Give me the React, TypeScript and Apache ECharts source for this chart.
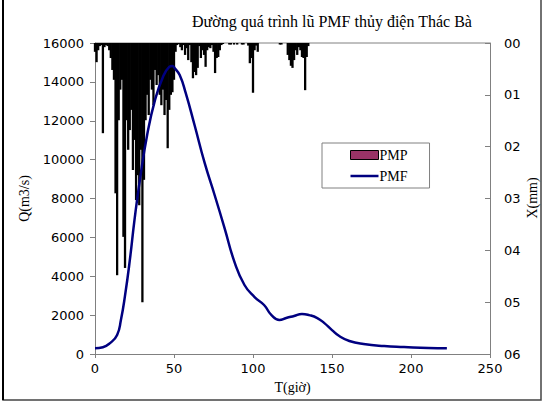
import React, { useEffect, useRef } from "react";
import * as echarts from "echarts";

const TITLE = "Đường quá trình lũ PMF thủy điện Thác Bà";
const RIGHT_AXIS_NAME = "X(mm)";

// PMP hourly rainfall (mm), t = 0,1,2,...
const pmpRain: number[] = [
  1.7, 3.7, 1.4, 0.6, 0.4, 17.4, 0.8, 0.4, 0.6, 1.4,
  2.9, 5.2, 7.1, 29, 44.8, 14.9, 9, 7.1, 37.4, 43.4,
  14.9, 20.6, 16.8, 12.9, 24.5, 18.7, 30.3, 25.5, 31.3, 20.6,
  50, 26.4, 14.9, 10, 13.9, 7.1, 9, 12, 5.2, 8.1,
  6.2, 10, 12, 9, 13.9, 11, 20.3, 12.9, 10, 9.5,
  7.1, 1.7, 0.4, 0.2, 0.8, 1.4, 0.4, 2.3, 1, 3.3,
  0.4, 3.7, 6.8, 5.6, 6.2, 4.8, 0.6, 2.9, 1.4, 2.3,
  4.6, 1.4, 0.8, 1, 0.4, 1.7, 5.8, 2.9, 2.7, 1.4,
  0.4, 0.2, 0, 0, 0, 0.3, 0.3, 0, 0.3, 0,
  0.3, 0, 0, 0.3, 0.3, 0, 0, 0.5, 3.9, 2.9,
  9.6, 1.4, 0.5, 1.7, 0, 0, 0, 0, 0, 0,
  0, 0, 0, 0, 0, 0, 0, 0.3, 0.3, 0,
  0, 0, 2.3, 3.3, 4.4, 4.8, 3.3, 1.4, 2.3, 0.8,
  1.4, 2.7, 2.9, 9.1, 2.7, 0.6,
];

// PMF hydrograph: time (h) and discharge (m3/s)
const pmfTime: number[] = [
  0, 5, 9.5, 14, 16.4, 19, 22, 25, 28.4, 33, 38, 43, 47, 49, 50.5, 53.6, 57.4,
  63, 69.4, 75.7, 82, 88.3, 94.6, 101, 107, 111.7, 116.7, 121, 126, 131,
  135.6, 140.7, 145, 150, 154.6, 161, 170, 183, 195.6, 211, 222.7,
];
const pmfFlow: number[] = [
  300, 350, 560, 980, 1750, 3000, 4800, 6900, 8950, 11270, 13070, 14250, 14770,
  14820, 14700, 14350, 13430, 11780, 9830, 8180, 6480, 4730, 3550, 2930, 2520,
  2000, 1750, 1850, 1955, 2060, 2000, 1850, 1600, 1230, 925, 670, 515, 410,
  360, 310, 300,
];

const rightTickLabels: string[] = ["00", "01", "02", "03", "04", "05", "06"];

const SERIF = "'Liberation Serif', 'Times New Roman', serif";
const SANS = "'DejaVu Sans', Verdana, sans-serif";

export default function App() {
  const ref = useRef<HTMLDivElement>(null);
  useEffect(() => {
    if (!ref.current) return;
    const chart = echarts.init(ref.current, null, { renderer: "svg" });
    const axisLine = { show: true, lineStyle: { color: "#808080", width: 1 } };
    chart.setOption({
      animation: false,
      backgroundColor: "#ffffff",
      title: {
        text: TITLE,
        left: 187,
        top: 8,
        textStyle: { fontFamily: SERIF, fontSize: 16, fontWeight: "normal", color: "#000" },
      },
      legend: {
        orient: "vertical",
        left: 322,
        top: 143,
        padding: [5, 22, 5, 28],
        itemGap: 7,
        itemWidth: 28,
        itemHeight: 9,
        borderColor: "#808080",
        borderWidth: 1,
        backgroundColor: "#fff",
        textStyle: { fontFamily: SERIF, fontSize: 14, color: "#000", padding: [0, 0, 0, -4] },
        data: [
          { name: "PMP", icon: "rect", itemStyle: { color: "#993366", borderColor: "#000", borderWidth: 1 } },
          {
            name: "PMF",
            icon: "path://M0,0 L28,0 L28,2.5 L0,2.5 Z",
            itemStyle: { color: "#000080", borderWidth: 0 },
          },
        ],
      },
      grid: {
        left: 95,
        right: 54,
        top: 43,
        bottom: 50,
        containLabel: false,
        outerBoundsMode: "none",
      },
      xAxis: {
        type: "value",
        min: 0,
        max: 250,
        interval: 50,
        name: "T(giờ)",
        nameLocation: "middle",
        nameGap: 26,
        nameTextStyle: { fontFamily: SERIF, fontSize: 14, color: "#000" },
        axisLine,
        axisTick: { show: true, length: 4, lineStyle: { color: "#808080" } },
        axisLabel: { fontFamily: SANS, fontSize: 13, color: "#000", margin: 8 },
        splitLine: { show: false },
      },
      yAxis: [
        {
          type: "value",
          min: 0,
          max: 16000,
          interval: 2000,
          position: "left",
          name: "Q(m3/s)",
          nameLocation: "middle",
          nameRotate: 90,
          nameGap: 58,
          nameTextStyle: { fontFamily: SERIF, fontSize: 14, color: "#000" },
          axisLine,
          axisTick: { show: true, length: 5, lineStyle: { color: "#808080" } },
          axisLabel: {
            fontFamily: SANS,
            fontSize: 13,
            color: "#000",
            margin: 11,
            formatter: (v: number) => String(v),
          },
          splitLine: { show: false },
        },
        {
          type: "value",
          min: 0,
          max: 60,
          interval: 10,
          inverse: true,
          position: "right",
          axisLine,
          axisTick: { show: true, inside: true, length: 5, lineStyle: { color: "#808080" } },
          axisLabel: {
            fontFamily: SANS,
            fontSize: 13,
            color: "#000",
            margin: 14,
            formatter: (v: number) => rightTickLabels[Math.round(v / 10)] ?? "",
          },
          splitLine: { show: false },
        },
      ],
      series: [
        {
          name: "PMP",
          type: "bar",
          yAxisIndex: 1,
          barWidth: 2.3,
          itemStyle: { color: "#000" },
          data: pmpRain.map((v, i) => [i, v]),
        },
        {
          name: "PMF",
          type: "line",
          yAxisIndex: 0,
          smooth: true,
          symbol: "none",
          lineStyle: { color: "#000080", width: 2.5 },
          itemStyle: { color: "#000080" },
          data: pmfTime.map((t, i) => [t, pmfFlow[i]]),
        },
      ],
      graphic: [
        {
          type: "rect",
          shape: { x: 3, y: -2, width: 538, height: 402 },
          style: { fill: "none", stroke: "#444", lineWidth: 1.5 },
          silent: true,
        },
        {
          type: "line",
          shape: { x1: 3, y1: 0, x2: 3, y2: 400 },
          style: { stroke: "#000", lineWidth: 2 },
          silent: true,
        },
        {
          type: "line",
          shape: { x1: 95, y1: 43, x2: 490, y2: 43 },
          style: { stroke: "#808080", lineWidth: 1 },
          silent: true,
        },
        {
          type: "text",
          x: 532,
          y: 198,
          rotation: Math.PI / 2,
          style: {
            text: RIGHT_AXIS_NAME,
            fontFamily: SERIF,
            fontSize: 14,
            fill: "#000",
            align: "center",
            verticalAlign: "middle",
          },
          silent: true,
        },
      ],
    });
    return () => chart.dispose();
  }, []);
  return (
    <div
      ref={ref}
      style={{ position: "fixed", left: 0, top: 0, width: 544, height: 404 }}
    />
  );
}
